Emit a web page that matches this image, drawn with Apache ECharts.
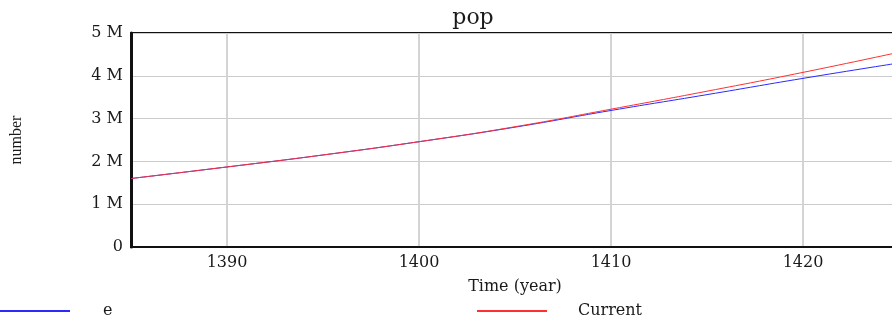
<!DOCTYPE html>
<html>
<head>
<meta charset="utf-8">
<script src="https://cdn.jsdelivr.net/npm/echarts@6/dist/echarts.min.js"></script>
<style>
	html, body { margin: 0; padding: 0; background: #fff; }
	#echart { width: 892px; height: 317px; }
</style>
</head>
<body>
<div id="echart"></div>
<script>
	'use strict'

	/*-----data-----*/
	var years = [1385, 1390, 1395, 1400, 1405, 1410, 1415, 1420, 1425];
	var eValues = [1.60, 1.87, 2.15, 2.46, 2.80, 3.19, 3.56, 3.94, 4.30];
	var currentValues = [1.60, 1.87, 2.15, 2.46, 2.81, 3.22, 3.64, 4.08, 4.55];
	var xTickLabels = [1390, 1400, 1410, 1420];

	function pairs(vals) {
		return years.map(function (y, i) { return [y, vals[i] * 1e6]; });
	}

	var font = 'DejaVu Serif';
	var ink = '#1a1a1a';
	var lineIcon = 'path://M0,0 L70,0 L70,2 L0,2 Z';
	var chart = echarts.init(document.getElementById('echart'));
	var option = {
		animation: false,
		title: {
			text: 'pop',
			left: 468,
			top: 2,
			textAlign: 'center',
			textStyle: { fontFamily: font, fontSize: 22, fontWeight: 'normal', color: ink }
		},
		legend: [{
			left: 0,
			top: 303,
			padding: 0,
			icon: lineIcon,
			itemWidth: 70,
			itemHeight: 2,
			textStyle: { fontFamily: font, fontSize: 16, color: ink, padding: [0, 0, 0, 28] },
			data: ['e']
		}, {
			left: 477,
			top: 303,
			padding: 0,
			icon: lineIcon,
			itemWidth: 70,
			itemHeight: 2,
			textStyle: { fontFamily: font, fontSize: 16, color: ink, padding: [0, 0, 0, 26] },
			data: ['Current']
		}],
		grid: {
			left: 131,
			right: -7,
			top: 33,
			bottom: 70,
			outerBoundsMode: 'none',
			show: true,
			borderColor: '#111',
			borderWidth: 2
		},
		xAxis: {
			type: 'value',
			min: 1385,
			max: 1425,
			interval: 5,
			name: 'Time (year)',
			nameLocation: 'middle',
			nameGap: 32,
			nameTextStyle: { fontFamily: font, fontSize: 16, color: ink },
			axisLine: { lineStyle: { color: '#111', width: 2 } },
			axisTick: { show: false },
			axisLabel: {
				fontFamily: font, fontSize: 16, color: ink, margin: 8,
				formatter: function (v) {
					return xTickLabels.indexOf(v) >= 0 ? String(v) : '';
				}
			},
			splitLine: { lineStyle: { color: ['transparent', '#d4d4d4'], width: 2 } }
		},
		yAxis: {
			type: 'value',
			min: 0,
			max: 5e6,
			interval: 1e6,
			name: 'number',
			nameLocation: 'middle',
			nameGap: 106,
			nameTextStyle: { fontFamily: 'Liberation Serif', fontSize: 16, color: ink },
			axisLine: { show: true, lineStyle: { color: '#111', width: 3 } },
			axisTick: { show: false },
			axisLabel: {
				fontFamily: font, fontSize: 16, color: ink, margin: 8,
				formatter: function (v) {
					return v === 0 ? '0' : (v / 1e6) + ' M';
				}
			},
			splitLine: { lineStyle: { color: '#cccccc', width: 1 } }
		},
		series: [{
			name: 'e',
			type: 'line',
			data: pairs(eValues),
			smooth: true,
			symbol: 'none',
			lineStyle: { color: '#2a2aff', width: 1 },
			itemStyle: { color: '#2a2aff' }
		}, {
			name: 'Current',
			type: 'line',
			data: pairs(currentValues),
			smooth: true,
			symbol: 'none',
			lineStyle: { color: '#ff3030', width: 1 },
			itemStyle: { color: '#ff3030' }
		}]
	};
	chart.setOption(option);
</script>
</body>
</html>
